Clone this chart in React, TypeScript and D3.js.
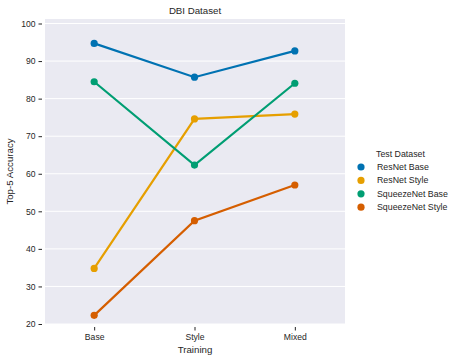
import React, { useEffect, useRef } from "react";
import * as d3 from "d3";

const categories = ["Base", "Style", "Mixed"];
const seriesNames = ["ResNet Base", "ResNet Style", "SqueezeNet Base", "SqueezeNet Style"];
const resnetBase = [94.7, 85.7, 92.7];
const resnetStyle = [34.8, 74.6, 75.9];
const squeezeBase = [84.5, 62.3, 84.1];
const squeezeStyle = [22.3, 47.5, 57.0];
const yTicks = [20, 30, 40, 50, 60, 70, 80, 90, 100];
const colors = ["#0072B2", "#E69F00", "#009E73", "#D55E00"];

const App = () => {
  const svgRef = useRef<SVGSVGElement>(null);

  useEffect(() => {
    const svg = d3.select(svgRef.current);
    svg.selectAll("*").remove();
    const font = "Liberation Sans, Arial, sans-serif";
    const m = { left: 45, right: 345, top: 19, bottom: 324 };

    const x = d3.scalePoint().domain(categories).range([m.left - 1, m.right]).padding(0.5);
    const y = d3.scaleLinear().domain([20, 101.2]).range([m.bottom, m.top]);

    svg.append("rect")
      .attr("x", m.left).attr("y", m.top)
      .attr("width", m.right - m.left).attr("height", m.bottom - m.top)
      .attr("fill", "#EAEAF2");

    svg.append("g").selectAll("line").data(yTicks).enter().append("line")
      .attr("x1", m.left).attr("x2", m.right)
      .attr("y1", d => y(d)).attr("y2", d => y(d))
      .attr("stroke", "#fff").attr("stroke-width", 1);

    const yAxis = svg.append("g")
      .attr("transform", `translate(${m.left - 3},0)`)
      .call(d3.axisLeft(y).tickValues(yTicks).tickSize(3.5).tickPadding(3));
    const xAxis = svg.append("g")
      .attr("transform", `translate(0,${m.bottom + 3})`)
      .call(d3.axisBottom(x).tickSize(3.5).tickPadding(3));
    [yAxis, xAxis].forEach(a => {
      a.select(".domain").remove();
      a.selectAll("line").attr("stroke", "#262626");
      a.selectAll("text").attr("fill", "#262626").attr("font-size", 8.6).attr("font-family", font);
    });

    const series = [resnetBase, resnetStyle, squeezeBase, squeezeStyle];
    const line = d3.line<number>().x((_, i) => x(categories[i])!).y(d => y(d));
    series.forEach((s, k) => {
      svg.append("path").datum(s)
        .attr("d", line).attr("fill", "none")
        .attr("stroke", colors[k]).attr("stroke-width", 2.2);
      svg.append("g").selectAll("circle").data(s).enter().append("circle")
        .attr("cx", (_, i) => x(categories[i])!).attr("cy", d => y(d))
        .attr("r", 3.6).attr("fill", colors[k]);
    });

    svg.append("text").text("DBI Dataset")
      .attr("x", (m.left + m.right) / 2).attr("y", 14)
      .attr("text-anchor", "middle").attr("font-size", 9.7).attr("font-family", font).attr("fill", "#262626");
    svg.append("text").text("Training")
      .attr("x", (m.left + m.right) / 2).attr("y", 353)
      .attr("text-anchor", "middle").attr("font-size", 9.7).attr("font-family", font).attr("fill", "#262626");
    svg.append("text").text("Top-5 Accuracy")
      .attr("transform", `translate(13,${(m.top + m.bottom) / 2}) rotate(-90)`)
      .attr("text-anchor", "middle").attr("font-size", 9.7).attr("font-family", font).attr("fill", "#262626");

    const legend = svg.append("g");
    legend.append("text").text("Test Dataset")
      .attr("x", 376).attr("y", 157).attr("font-size", 8.8).attr("font-family", font).attr("fill", "#262626");
    seriesNames.forEach((n, i) => {
      const ly = 167 + i * 13.4;
      legend.append("circle").attr("cx", 361).attr("cy", ly).attr("r", 3.6).attr("fill", colors[i]);
      legend.append("text").text(n).attr("x", 377).attr("y", ly + 3)
        .attr("font-size", 8.8).attr("font-family", font).attr("fill", "#262626");
    });
  }, []);

  return <svg ref={svgRef} width={455} height={361} style={{ position: "absolute", left: 0, top: 0 }} />;
};

export default App;
